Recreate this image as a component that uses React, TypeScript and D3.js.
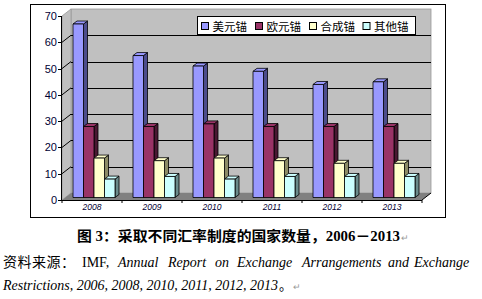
import React from "react";
import * as d3 from "d3";

const years = ["2008", "2009", "2010", "2011", "2012", "2013"];
const seriesNames = ["美元锚", "欧元锚", "合成锚", "其他锚"];
const usdAnchor = [66, 54, 50, 48, 43, 44];
const euroAnchor = [27, 27, 28, 27, 27, 27];
const compositeAnchor = [15, 14, 15, 14, 13, 13];
const otherAnchor = [7, 8, 7, 8, 8, 8];
const yTicks = [0, 10, 20, 30, 40, 50, 60, 70];

const frontColors = ["#9999FF", "#993366", "#FFFFCC", "#CCFFFF"];
const sideColors = ["#4C4C8C", "#4A1832", "#8C8C66", "#6A8A8A"];

const line2Words: { t: string; x: number; italic: boolean }[] = [
  { t: "IMF,", x: 82, italic: false },
  { t: "Annual", x: 118, italic: true },
  { t: "Report", x: 168, italic: true },
  { t: "on", x: 215, italic: true },
  { t: "Exchange", x: 237, italic: true },
  { t: "Arrangements", x: 302, italic: true },
  { t: "and", x: 388, italic: true },
  { t: "Exchange", x: 414, italic: true },
];

export default function App() {
  const values = [usdAnchor, euroAnchor, compositeAnchor, otherAnchor];
  const X0 = 62, X1 = 422, Y0 = 200;
  const DX = 9, DY = -7;
  const yF = d3.scaleLinear().domain([0, 70]).range([Y0, 16]);
  const x = d3.scaleBand().domain(years).range([X0, X1]);
  const xs = d3.scaleBand().domain(seriesNames).range([8, 50]);
  const bw = xs.bandwidth();
  const bOffX = 3, bOffY = -2.5;
  const sdx = 4, sdy = -3;
  const pts = (p: number[][]) => p.map((q) => q.join(",")).join(" ");

  const bars: React.ReactNode[] = [];
  years.forEach((yr, i) => {
    seriesNames.forEach((s, j) => {
      const v = values[j][i];
      const xl = (x(yr) as number) + (xs(s) as number) + bOffX;
      const xr = xl + bw;
      const yt = yF(v) + bOffY;
      const yb = Y0 + bOffY;
      bars.push(
        <g key={yr + s} stroke="#000" strokeWidth={0.8} strokeLinejoin="round">
          <polygon points={pts([[xr, yt], [xr + sdx, yt + sdy], [xr + sdx, yb + sdy], [xr, yb]])} fill={sideColors[j]} />
          <polygon points={pts([[xl, yt], [xr, yt], [xr + sdx, yt + sdy], [xl + sdx, yt + sdy]])} fill={frontColors[j]} />
          <rect x={xl} y={yt} width={bw} height={yb - yt} fill={frontColors[j]} />
        </g>
      );
    });
  });

  const legendX = [201.5, 255.5, 309.5, 363];

  return (
    <svg width={482} height={299} style={{ position: "absolute", left: 0, top: 0 }}>
      <rect x={0} y={0} width={482} height={299} fill="#fff" />
      <rect x={30.5} y={4.5} width={415} height={213} fill="#fff" stroke="#000" strokeWidth={1} />
      <rect x={X0 + DX} y={yF(70) + DY} width={X1 - X0} height={Y0 - yF(70)} fill="#C0C0C0" stroke="#9a9a9a" strokeWidth={0.8} />
      <polygon points={pts([[X0, Y0], [X0 + DX, Y0 + DY], [X0 + DX, yF(70) + DY], [X0, yF(70)]])} fill="#C0C0C0" stroke="#9a9a9a" strokeWidth={0.8} />
      {yTicks.filter((t) => t > 0 && t < 70).map((t) => (
        <g key={t} stroke="#000" strokeWidth={1}>
          <line x1={X0 + DX} x2={X1 + DX} y1={Math.round(yF(t) + DY) + 0.5} y2={Math.round(yF(t) + DY) + 0.5} />
          <line x1={X0} x2={X0 + DX} y1={yF(t)} y2={yF(t) + DY} />
        </g>
      ))}
      <polygon points={pts([[X0, Y0], [X1, Y0], [X1 + DX, Y0 + DY], [X0 + DX, Y0 + DY]])} fill="#808080" />
      <line x1={X0} x2={X1} y1={Y0 + 0.5} y2={Y0 + 0.5} stroke="#000" />
      <line x1={X1} x2={X1 + DX} y1={Y0} y2={Y0 + DY} stroke="#000" />
      <line x1={X0 - 0.5} x2={X0 - 0.5} y1={yF(70)} y2={Y0 + 0.5} stroke="#000" />
      {yTicks.map((t) => (
        <g key={"yt" + t}>
          <line x1={X0 - 4} x2={X0} y1={Math.round(yF(t)) + 0.5} y2={Math.round(yF(t)) + 0.5} stroke="#000" />
          <text x={57} y={yF(t) + 4} textAnchor="end" fontFamily="Liberation Sans, Arial" fontSize={11} fill="#000033">{t}</text>
        </g>
      ))}
      {d3.range(years.length + 1).map((k) => {
        const xx = X0 + k * x.step();
        return <line key={"xt" + k} x1={xx} x2={xx} y1={Y0} y2={Y0 + 3} stroke="#000" />;
      })}
      {years.map((yr) => (
        <text key={"xl" + yr} x={(x(yr) as number) + x.bandwidth() / 2} y={210} textAnchor="middle" fontFamily="Liberation Sans, Arial" fontStyle="italic" fontSize={8.5} fill="#000033">{yr}</text>
      ))}
      {bars}
      <rect x={197.5} y={16.5} width={218} height={18} fill="#fff" stroke="#000" />
      {seriesNames.map((s, j) => (
        <g key={"lg" + s}>
          <rect x={legendX[j]} y={22.5} width={7} height={7} fill={frontColors[j]} stroke="#000" />
          <text x={legendX[j] + 11} y={30.5} fontFamily="Noto Sans CJK SC" fontSize={11.5} fill="#000">{s}</text>
        </g>
      ))}
      <text x={77} y={241} fontFamily="Liberation Serif, Noto Sans CJK SC" fontWeight="bold" fontSize={14} fill="#000" textLength={323} lengthAdjust="spacingAndGlyphs">图 3：采取不同汇率制度的国家数量，2006－2013</text>
      <text x={401} y={241} fontFamily="Liberation Sans" fontSize={9} fill="#999">↵</text>
      <text x={3} y={267} fontFamily="Noto Sans CJK SC" fontSize={14} fill="#000" textLength={72} lengthAdjust="spacing">资料来源：</text>
      {line2Words.map((w, i) => (
        <text key={"w" + i} x={w.x} y={267} fontFamily="Liberation Serif" fontStyle={w.italic ? "italic" : "normal"} fontSize={14} fill="#000">{w.t}</text>
      ))}
      <text x={3} y={290} fontFamily="Liberation Serif" fontStyle="italic" fontSize={14} fill="#000" textLength={275} lengthAdjust="spacing">Restrictions, 2006, 2008, 2010, 2011, 2012, 2013</text>
      <text x={279} y={290} fontFamily="Noto Sans CJK SC" fontSize={13} fill="#000">。</text>
      <text x={293} y={290} fontFamily="Liberation Sans" fontSize={9} fill="#999">↵</text>
    </svg>
  );
}
